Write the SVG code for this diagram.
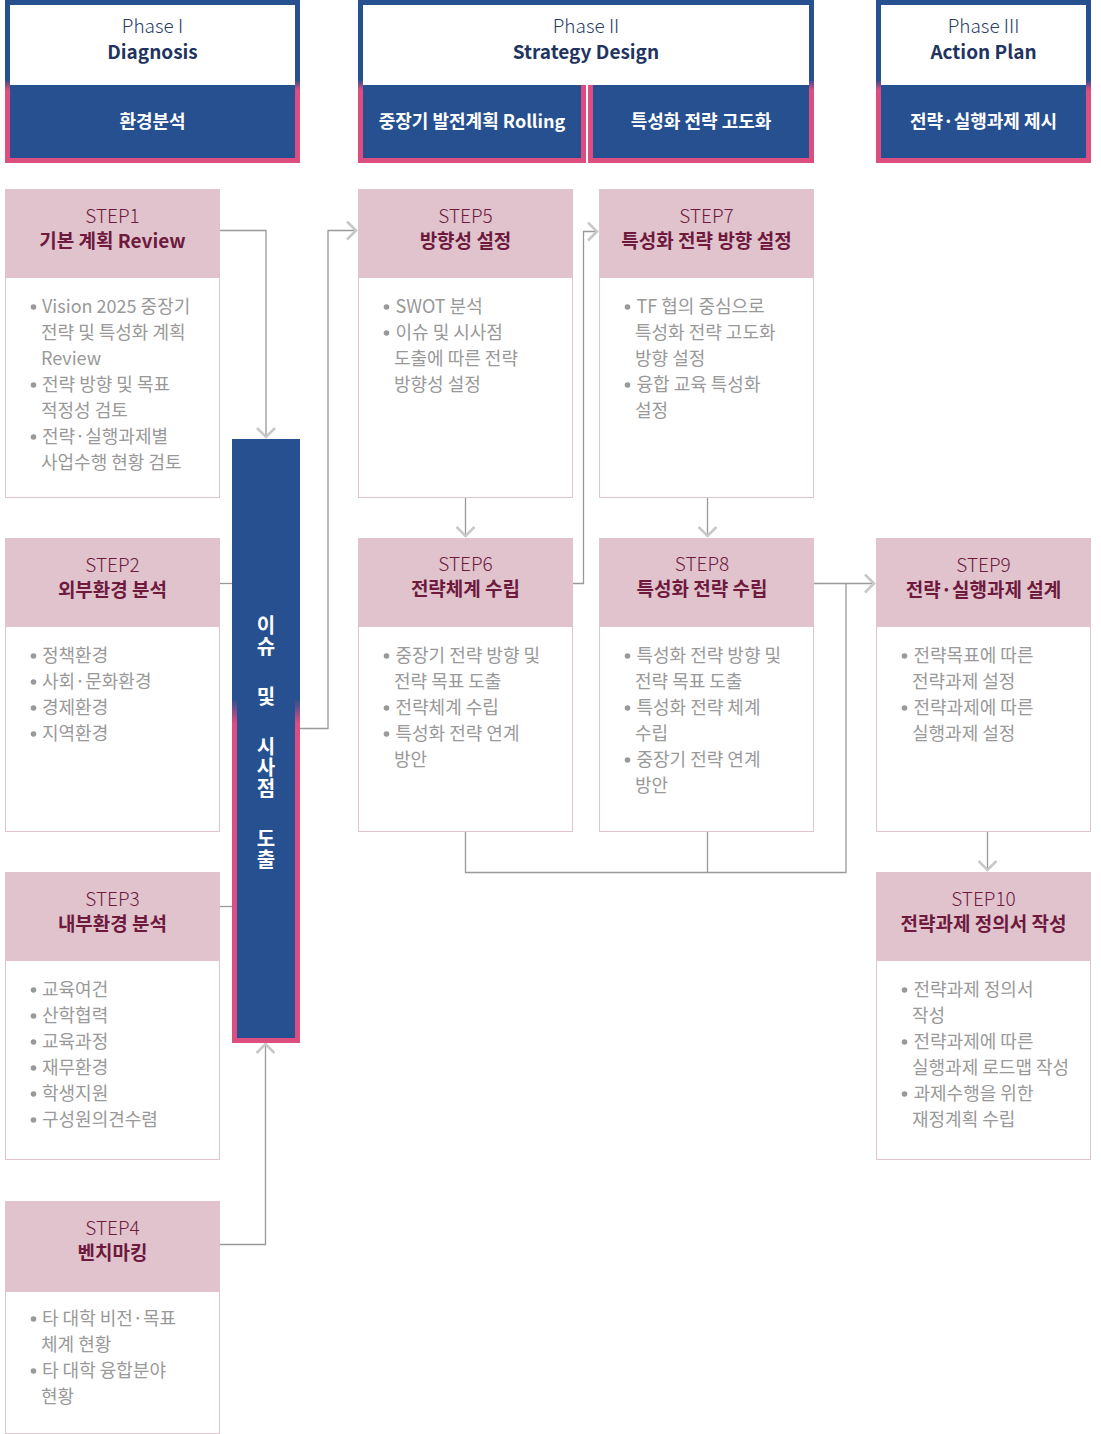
<svg xmlns="http://www.w3.org/2000/svg" width="1101" height="1434" viewBox="0 0 1101 1434">
<defs>
<linearGradient id="phg" x1="0" y1="0" x2="0" y2="1">
<stop offset="0" stop-color="#26508f"/><stop offset="0.49" stop-color="#26508f"/><stop offset="0.55" stop-color="#dc4d80"/><stop offset="1" stop-color="#dc4d80"/>
</linearGradient>
<linearGradient id="barg" x1="0" y1="0" x2="0" y2="1">
<stop offset="0" stop-color="#26508f"/><stop offset="0.43" stop-color="#26508f"/><stop offset="0.47" stop-color="#dc4d80"/><stop offset="1" stop-color="#dc4d80"/>
</linearGradient>
<marker id="chev" viewBox="0 0 12 20" markerWidth="12" markerHeight="20" refX="10" refY="10" orient="auto" markerUnits="userSpaceOnUse">
<path d="M1,1 L10,10 L1,19" fill="none" stroke="#c8c8c8" stroke-width="2.6"/>
</marker>
</defs>
<style>
text{font-family:"Noto Sans CJK KR","Noto Sans",sans-serif;}
.ph{font-size:19px;fill:#2a3d66;font-weight:300;text-anchor:middle;}
.pt{font-size:19px;fill:#1f3460;font-weight:700;text-anchor:middle;}
.pw{font-size:18px;fill:#ffffff;font-weight:700;text-anchor:middle;}
.box{fill:#ffffff;stroke:#e0c3cd;stroke-width:1;}
.hd{fill:#e0c3cd;}
.sl{font-size:19px;fill:#6d1a3d;font-weight:300;text-anchor:middle;}
.st{font-size:19px;fill:#6d1a3d;font-weight:700;text-anchor:middle;}
.bd{font-size:18px;fill:#999999;}
.bu{fill:#999999;}
.ln{fill:none;stroke:#999999;stroke-width:1.3;}
.ar{fill:none;stroke:#999999;stroke-width:1.3;marker-end:url(#chev);}
.bt{font-size:20px;fill:#ffffff;font-weight:700;text-anchor:middle;writing-mode:vertical-rl;letter-spacing:1px;}
</style>
<rect width="1101" height="1434" fill="#ffffff"/>

<g id="phase1">
<rect x="5" y="0" width="295" height="163" fill="url(#phg)"/>
<rect x="10" y="5" width="285" height="80" fill="#ffffff"/>
<rect x="10" y="85" width="285" height="73" fill="#26508f"/>
<text class="ph" x="152.5" y="33">Phase I</text>
<text class="pt" x="152.5" y="59">Diagnosis</text>
<text class="pw" x="152.5" y="128">환경분석</text>
</g>

<g id="phase2">
<rect x="358" y="0" width="456" height="163" fill="url(#phg)"/>
<rect x="363" y="5" width="446" height="80" fill="#ffffff"/>
<rect x="581" y="85" width="12" height="78" fill="#dc4d80"/>
<rect x="586" y="85" width="2" height="78" fill="#ffffff"/>
<rect x="363" y="85" width="218" height="73" fill="#26508f"/>
<rect x="593" y="85" width="216" height="73" fill="#26508f"/>
<text class="ph" x="586" y="33">Phase II</text>
<text class="pt" x="586" y="59">Strategy Design</text>
<text class="pw" x="472" y="128">중장기 발전계획 Rolling</text>
<text class="pw" x="701" y="128">특성화 전략 고도화</text>
</g>

<g id="phase3">
<rect x="876" y="0" width="215" height="163" fill="url(#phg)"/>
<rect x="881" y="5" width="205" height="80" fill="#ffffff"/>
<rect x="881" y="85" width="205" height="73" fill="#26508f"/>
<text class="ph" x="983.5" y="33">Phase III</text>
<text class="pt" x="983.5" y="59">Action Plan</text>
<text class="pw" x="983.5" y="128">전략·실행과제 제시</text>
</g>

<g id="connectors">
<path class="ar" d="M220,230.5 H266 V437"/>
<path class="ln" d="M220,583.5 H232"/>
<path class="ln" d="M220,906.5 H232"/>
<path class="ar" d="M220,1244.5 H265.5 V1044"/>
<path class="ar" d="M300,728.5 H328 V230.5 H356"/>
<path class="ar" d="M465.5,498 V536"/>
<path class="ar" d="M573,583.5 H583.5 V231.5 H597"/>
<path class="ar" d="M707.5,498 V536"/>
<path class="ar" d="M814,583.5 H874"/>
<path class="ln" d="M846,583.5 V872.5 H465.5 V832 M707.5,872.5 V832"/>
<path class="ar" d="M987.5,832 V870"/>
</g>

<g id="issue-bar">
<rect x="232" y="439" width="68" height="604" fill="url(#barg)"/>
<rect x="237" y="439" width="58" height="599" fill="#26508f"/>
<text class="bt" x="266" y="636">이슈</text>
<text class="bt" x="266" y="697">및</text>
<text class="bt" x="266" y="768">시사점</text>
<text class="bt" x="266" y="849">도출</text>
</g>

<g id="step1">
<rect class="box" x="5.5" y="189.5" width="214" height="308"/>
<rect class="hd" x="5" y="189" width="215" height="89"/>
<text class="sl" x="112.5" y="223">STEP1</text>
<text class="st" x="112.5" y="248">기본 계획 Review</text>
<circle class="bu" cx="33.5" cy="307" r="2.8"/><text class="bd" x="42" y="313">Vision 2025 중장기</text>
<text class="bd" x="41" y="339">전략 및 특성화 계획</text>
<text class="bd" x="41" y="365">Review</text>
<circle class="bu" cx="33.5" cy="385" r="2.8"/><text class="bd" x="42" y="391">전략 방향 및 목표</text>
<text class="bd" x="41" y="417">적정성 검토</text>
<circle class="bu" cx="33.5" cy="437" r="2.8"/><text class="bd" x="42" y="443">전략·실행과제별</text>
<text class="bd" x="41" y="469">사업수행 현황 검토</text>
</g>

<g id="step2">
<rect class="box" x="5.5" y="538.5" width="214" height="293"/>
<rect class="hd" x="5" y="538" width="215" height="89"/>
<text class="sl" x="112.5" y="572">STEP2</text>
<text class="st" x="112.5" y="597">외부환경 분석</text>
<circle class="bu" cx="33.5" cy="656" r="2.8"/><text class="bd" x="42" y="662">정책환경</text>
<circle class="bu" cx="33.5" cy="682" r="2.8"/><text class="bd" x="42" y="688">사회·문화환경</text>
<circle class="bu" cx="33.5" cy="708" r="2.8"/><text class="bd" x="42" y="714">경제환경</text>
<circle class="bu" cx="33.5" cy="734" r="2.8"/><text class="bd" x="42" y="740">지역환경</text>
</g>

<g id="step3">
<rect class="box" x="5.5" y="872.5" width="214" height="287"/>
<rect class="hd" x="5" y="872" width="215" height="89"/>
<text class="sl" x="112.5" y="906">STEP3</text>
<text class="st" x="112.5" y="931">내부환경 분석</text>
<circle class="bu" cx="33.5" cy="990" r="2.8"/><text class="bd" x="42" y="996">교육여건</text>
<circle class="bu" cx="33.5" cy="1016" r="2.8"/><text class="bd" x="42" y="1022">산학협력</text>
<circle class="bu" cx="33.5" cy="1042" r="2.8"/><text class="bd" x="42" y="1048">교육과정</text>
<circle class="bu" cx="33.5" cy="1068" r="2.8"/><text class="bd" x="42" y="1074">재무환경</text>
<circle class="bu" cx="33.5" cy="1094" r="2.8"/><text class="bd" x="42" y="1100">학생지원</text>
<circle class="bu" cx="33.5" cy="1120" r="2.8"/><text class="bd" x="42" y="1126">구성원의견수렴</text>
</g>

<g id="step4">
<rect class="box" x="5.5" y="1201.5" width="214" height="232"/>
<rect class="hd" x="5" y="1201" width="215" height="91"/>
<text class="sl" x="112.5" y="1235">STEP4</text>
<text class="st" x="112.5" y="1260">벤치마킹</text>
<circle class="bu" cx="33.5" cy="1319" r="2.8"/><text class="bd" x="42" y="1325">타 대학 비전·목표</text>
<text class="bd" x="41" y="1351">체계 현황</text>
<circle class="bu" cx="33.5" cy="1371" r="2.8"/><text class="bd" x="42" y="1377">타 대학 융합분야</text>
<text class="bd" x="41" y="1403">현황</text>
</g>

<g id="step5">
<rect class="box" x="358.5" y="189.5" width="214" height="308"/>
<rect class="hd" x="358" y="189" width="215" height="89"/>
<text class="sl" x="465.5" y="223">STEP5</text>
<text class="st" x="465.5" y="248">방향성 설정</text>
<circle class="bu" cx="386.5" cy="307" r="2.8"/><text class="bd" x="395.5" y="313">SWOT 분석</text>
<circle class="bu" cx="386.5" cy="333" r="2.8"/><text class="bd" x="395.5" y="339">이슈 및 시사점</text>
<text class="bd" x="394" y="365">도출에 따른 전략</text>
<text class="bd" x="394" y="391">방향성 설정</text>
</g>

<g id="step6">
<rect class="box" x="358.5" y="538.5" width="214" height="293"/>
<rect class="hd" x="358" y="538" width="215" height="89"/>
<text class="sl" x="465.5" y="571">STEP6</text>
<text class="st" x="465.5" y="596">전략체계 수립</text>
<circle class="bu" cx="386.5" cy="656" r="2.8"/><text class="bd" x="395.5" y="662">중장기 전략 방향 및</text>
<text class="bd" x="394" y="688">전략 목표 도출</text>
<circle class="bu" cx="386.5" cy="708" r="2.8"/><text class="bd" x="395.5" y="714">전략체계 수립</text>
<circle class="bu" cx="386.5" cy="734" r="2.8"/><text class="bd" x="395.5" y="740">특성화 전략 연계</text>
<text class="bd" x="394" y="766">방안</text>
</g>

<g id="step7">
<rect class="box" x="599.5" y="189.5" width="214" height="308"/>
<rect class="hd" x="599" y="189" width="215" height="89"/>
<text class="sl" x="706.5" y="223">STEP7</text>
<text class="st" x="706.5" y="248">특성화 전략 방향 설정</text>
<circle class="bu" cx="627.5" cy="307" r="2.8"/><text class="bd" x="636.5" y="313">TF 협의 중심으로</text>
<text class="bd" x="635" y="339">특성화 전략 고도화</text>
<text class="bd" x="635" y="365">방향 설정</text>
<circle class="bu" cx="627.5" cy="385" r="2.8"/><text class="bd" x="636.5" y="391">융합 교육 특성화</text>
<text class="bd" x="635" y="417">설정</text>
</g>

<g id="step8">
<rect class="box" x="599.5" y="538.5" width="214" height="293"/>
<rect class="hd" x="599" y="538" width="215" height="89"/>
<text class="sl" x="702" y="571">STEP8</text>
<text class="st" x="702" y="596">특성화 전략 수립</text>
<circle class="bu" cx="627.5" cy="656" r="2.8"/><text class="bd" x="636.5" y="662">특성화 전략 방향 및</text>
<text class="bd" x="635" y="688">전략 목표 도출</text>
<circle class="bu" cx="627.5" cy="708" r="2.8"/><text class="bd" x="636.5" y="714">특성화 전략 체계</text>
<text class="bd" x="635" y="740">수립</text>
<circle class="bu" cx="627.5" cy="760" r="2.8"/><text class="bd" x="636.5" y="766">중장기 전략 연계</text>
<text class="bd" x="635" y="792">방안</text>
</g>

<g id="step9">
<rect class="box" x="876.5" y="538.5" width="214" height="293"/>
<rect class="hd" x="876" y="538" width="215" height="89"/>
<text class="sl" x="983.5" y="572">STEP9</text>
<text class="st" x="983.5" y="597">전략·실행과제 설계</text>
<circle class="bu" cx="904.5" cy="656" r="2.8"/><text class="bd" x="913.5" y="662">전략목표에 따른</text>
<text class="bd" x="912" y="688">전략과제 설정</text>
<circle class="bu" cx="904.5" cy="708" r="2.8"/><text class="bd" x="913.5" y="714">전략과제에 따른</text>
<text class="bd" x="912" y="740">실행과제 설정</text>
</g>

<g id="step10">
<rect class="box" x="876.5" y="872.5" width="214" height="287"/>
<rect class="hd" x="876" y="872" width="215" height="89"/>
<text class="sl" x="983.5" y="906">STEP10</text>
<text class="st" x="983.5" y="931">전략과제 정의서 작성</text>
<circle class="bu" cx="904.5" cy="990" r="2.8"/><text class="bd" x="913.5" y="996">전략과제 정의서</text>
<text class="bd" x="912" y="1022">작성</text>
<circle class="bu" cx="904.5" cy="1042" r="2.8"/><text class="bd" x="913.5" y="1048">전략과제에 따른</text>
<text class="bd" x="912" y="1074">실행과제 로드맵 작성</text>
<circle class="bu" cx="904.5" cy="1094" r="2.8"/><text class="bd" x="913.5" y="1100">과제수행을 위한</text>
<text class="bd" x="912" y="1126">재정계획 수립</text>
</g>
</svg>
